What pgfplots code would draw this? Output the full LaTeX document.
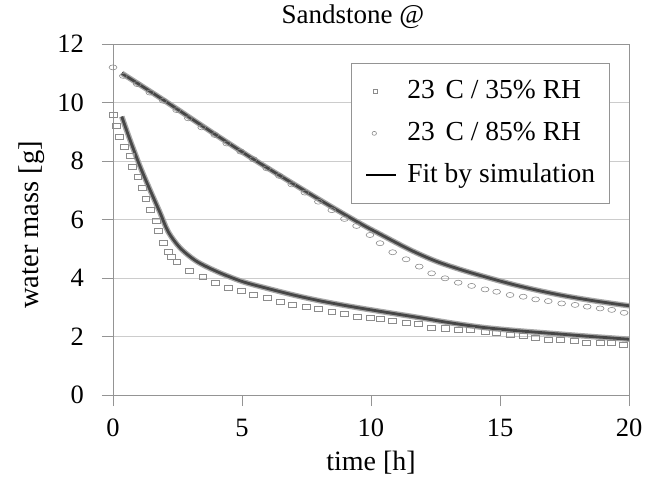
\documentclass[border=0pt]{standalone}
\usepackage{pgfplots}
\pgfplotsset{compat=1.18}
\usepackage{fontspec}
\setmainfont{Liberation Serif}
\definecolor{axisgray}{gray}{0.58}
\definecolor{gridgray}{gray}{0.80}
\definecolor{markgray}{gray}{0.55}
\definecolor{fitcore}{gray}{0.28}
\definecolor{fithalo}{gray}{0.66}

\begin{document}
\begin{tikzpicture}
\useasboundingbox (-113pt,-82pt) rectangle (532pt,395pt);
\begin{axis}[
  at={(0,0)}, anchor=south west,
  scale only axis, width=516pt, height=351pt,
  xmin=0, xmax=20, ymin=0, ymax=12,
  xtick={0,5,10,15,20}, ytick={0,2,4,6,8,10,12},
  axis line style={axisgray, line width=0.8pt},
  tick style={axisgray, line width=0.8pt},
  tick align=outside, major tick length=11pt,
  xtick pos=bottom, ytick pos=left,
  ymajorgrids, grid style={gridgray, line width=0.8pt},
  /pgf/number format/assume math mode=true,
  tick label style={font=\fontsize{26.5}{30}\selectfont},
  yticklabel style={anchor=east, inner sep=0pt, xshift=-18pt},
  xticklabel style={anchor=north, inner sep=0pt, yshift=-13pt},
  title={Sandstone @},
  title style={at={(axis description cs:0.465,1.0399)}, anchor=base, font=\fontsize{27}{32}\selectfont},
  xlabel={time [h]},
  xlabel style={at={(axis description cs:0.5,-0.2137)}, anchor=base, font=\fontsize{28}{33}\selectfont},
  ylabel={water mass [g]},
  ylabel style={at={(axis description cs:-0.1453,0.485)}, rotate=0, anchor=base, font=\fontsize{28.5}{33}\selectfont},
  legend cell align=left,
  legend style={at={(axis description cs:0.461,0.946)}, anchor=north west,
    draw=axisgray, line width=0.8pt, fill=white,
    inner xsep=14pt, inner ysep=14pt, row sep=14pt, /tikz/column sep=10pt,
    font=\fontsize{27.5}{32}\selectfont,
    nodes={inner xsep=0pt, inner ysep=0pt, text height=21pt, text depth=7pt}},
]
\addlegendimage{legend image code/.code={\path[draw=none] (0pt,0pt) -- (30pt,0pt); \draw[markgray, line width=0.6pt] (7pt,-2pt) rectangle (11pt,2pt);}}
\addlegendentry{23\hspace{0.4em}C / 35\% RH}
\addlegendimage{legend image code/.code={\path[draw=none] (0pt,0pt) -- (30pt,0pt); \draw[markgray, line width=0.6pt] (8pt,0pt) ellipse [x radius=2.2pt, y radius=2pt];}}
\addlegendentry{23\hspace{0.4em}C / 85\% RH}
\addlegendimage{legend image code/.code={\draw[black, line width=2pt] (0pt,0pt) -- (30pt,0pt);}}
\addlegendentry{Fit by simulation}

% fit 35% RH
\addplot[fithalo, line width=5.5pt, smooth, forget plot] coordinates {
(0.34,9.52) (0.66,8.72) (1.05,7.81) (1.43,7.02) (1.82,6.24) (2.14,5.58) (2.60,5.03) (3.24,4.57) (4.08,4.20) (5.01,3.88) (5.96,3.65) (6.99,3.42) (8.02,3.22) (9.06,3.05) (10.28,2.87) (11.77,2.66) (13.06,2.47) (14.35,2.31) (15.65,2.20) (16.94,2.11) (18.23,2.02) (20.1,1.90)};
\addplot[fitcore, line width=2.8pt, smooth, forget plot] coordinates {
(0.34,9.52) (0.66,8.72) (1.05,7.81) (1.43,7.02) (1.82,6.24) (2.14,5.58) (2.60,5.03) (3.24,4.57) (4.08,4.20) (5.01,3.88) (5.96,3.65) (6.99,3.42) (8.02,3.22) (9.06,3.05) (10.28,2.87) (11.77,2.66) (13.06,2.47) (14.35,2.31) (15.65,2.20) (16.94,2.11) (18.23,2.02) (20.1,1.90)};
% fit 85% RH
\addplot[fithalo, line width=5.5pt, smooth, forget plot] coordinates {
(0.34,11.00) (1.95,10.09) (3.89,8.95) (5.70,7.92) (8.02,6.67) (9.57,5.87) (10.35,5.50) (11.5,4.97) (12.5,4.58) (13.5,4.28) (14.5,4.02) (15.5,3.78) (16.5,3.57) (17.5,3.39) (18.5,3.24) (19.5,3.11) (20.1,3.04)};
\addplot[fitcore, line width=2.8pt, smooth, forget plot] coordinates {
(0.34,11.00) (1.95,10.09) (3.89,8.95) (5.70,7.92) (8.02,6.67) (9.57,5.87) (10.35,5.50) (11.5,4.97) (12.5,4.58) (13.5,4.28) (14.5,4.02) (15.5,3.78) (16.5,3.57) (17.5,3.39) (18.5,3.24) (19.5,3.11) (20.1,3.04)};

% measured 35% RH
\addplot[only marks, mark=square, mark size=2.8pt, mark options={markgray, line width=0.6pt, xscale=1.4, yscale=0.9}, forget plot] coordinates {
(0.0,9.58) (0.14,9.21) (0.25,8.84) (0.43,8.49) (0.66,8.18) (0.75,7.81) (0.96,7.45) (1.15,7.07) (1.27,6.70) (1.46,6.34) (1.67,5.97) (1.76,5.62) (1.95,5.21) (2.14,4.89) (2.27,4.73) (2.47,4.57) (2.96,4.25) (3.48,4.05) (3.95,3.84) (4.47,3.67) (4.96,3.56) (5.44,3.42) (5.98,3.31) (6.47,3.19) (6.96,3.10) (7.48,3.00) (7.96,2.94) (8.48,2.85) (8.97,2.79) (9.46,2.68) (9.96,2.64) (10.35,2.60) (10.84,2.53) (11.36,2.47) (11.84,2.45) (12.35,2.31) (12.87,2.28) (13.38,2.22) (13.86,2.22) (14.42,2.17) (14.87,2.13) (15.39,2.07) (15.90,2.02) (16.38,1.96) (16.87,1.90) (17.35,1.90) (17.87,1.85) (18.36,1.79) (18.88,1.79) (19.33,1.77) (19.78,1.71)};
% measured 85% RH
\addplot[only marks, mark=o, mark size=2.8pt, mark options={markgray, line width=0.6pt, xscale=1.4, yscale=0.9}, forget plot] coordinates {
(0.0,11.20) (0.40,10.91) (0.94,10.63) (1.43,10.34) (1.95,10.06) (2.47,9.74) (2.92,9.46) (3.44,9.15) (3.95,8.89) (4.41,8.60) (4.95,8.32) (5.44,8.06) (5.96,7.75) (6.45,7.49) (6.93,7.20) (7.44,6.92) (7.96,6.61) (8.48,6.32) (8.97,6.02) (9.44,5.78) (9.96,5.47) (10.35,5.19) (10.84,4.88) (11.36,4.64) (11.87,4.39) (12.35,4.16) (12.87,3.99) (13.38,3.84) (13.90,3.73) (14.42,3.61) (14.87,3.53) (15.39,3.42) (15.90,3.36) (16.38,3.27) (16.87,3.21) (17.39,3.13) (17.91,3.08) (18.38,3.02) (18.88,2.96) (19.33,2.91) (19.81,2.81)};
\end{axis}
\end{tikzpicture}
\end{document}
